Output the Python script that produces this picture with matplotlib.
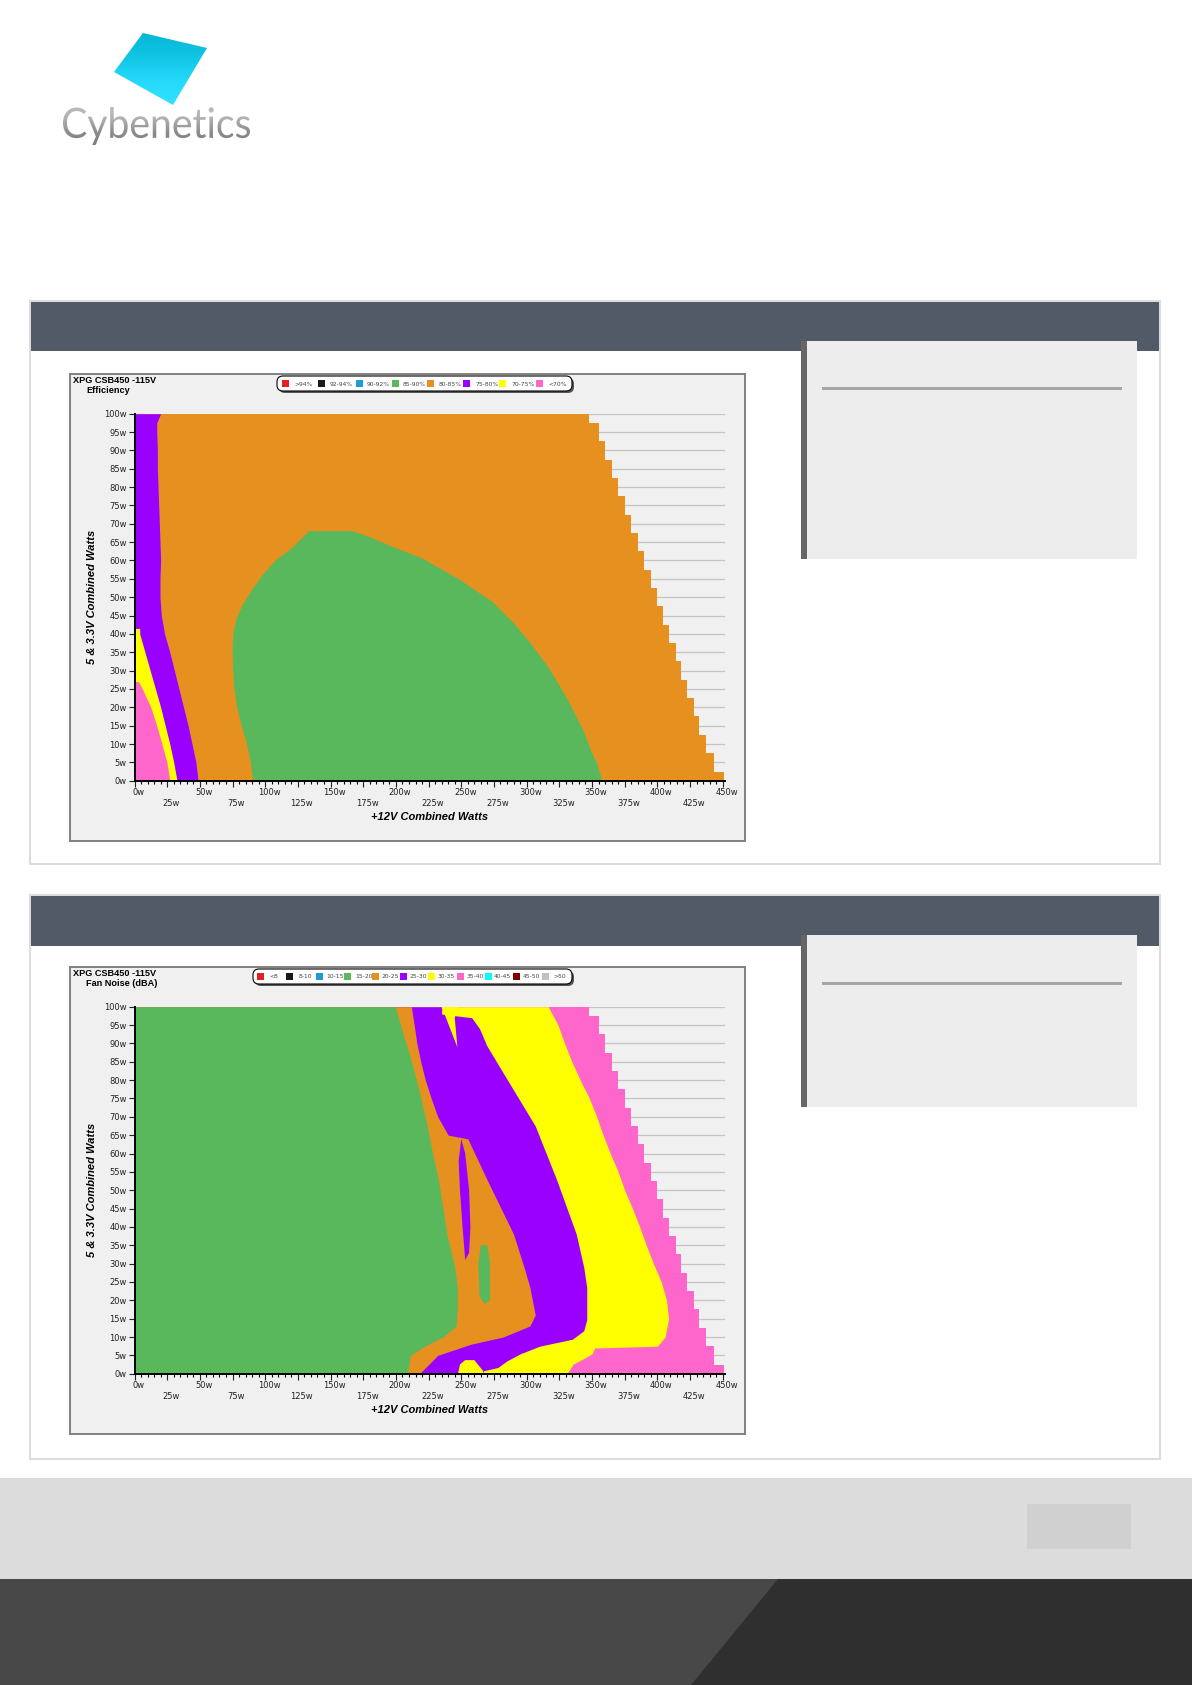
import numpy as np
import matplotlib.pyplot as plt
from matplotlib.patches import Rectangle, Polygon, FancyBboxPatch, PathPatch
from matplotlib.textpath import TextPath
from matplotlib.font_manager import FontProperties
from matplotlib.transforms import Affine2D, ScaledTranslation
from matplotlib.colors import LinearSegmentedColormap

# ---------------- data ----------------
eff_labels = [">94%", "92-94%", "90-92%", "85-90%", "80-85%", "75-80%", "70-75%", "<70%"]
noise_labels = ["<8", "8-10", "10-15", "15-20", "20-25", "25-30", "30-35", "35-40", "40-45", "45-50", ">50"]

RED, BLACK, BLUE, GREEN = "#e3201f", "#1a1a1a", "#1e9ad6", "#59b85c"
ORANGE, PURPLE, YELLOW, PINK = "#e69020", "#9900ff", "#ffff00", "#ff66cc"
eff_colors = [RED, BLACK, BLUE, GREEN, ORANGE, PURPLE, YELLOW, PINK]
noise_colors = [RED, BLACK, BLUE, GREEN, ORANGE, PURPLE, YELLOW, PINK, "#00ffff", "#800000", "#c0c0c0"]

# max +12V load for every 5w row of the 5V & 3.3V rails
row_y = [0, 5, 10, 15, 20, 25, 30, 35, 40, 45, 50, 55, 60, 65, 70, 75, 80, 85, 90, 95, 100]
max_12v = [451, 443, 437, 432, 428, 423, 418, 414, 409, 404, 400, 395, 390, 385, 380, 375,
           370, 365, 360, 355, 348]

# efficiency map, band edges (watts on +12V) per 5V&3.3V load
eff_purple_y = [0, 5, 10, 15, 20, 25, 30, 35, 40, 45, 50, 55, 60, 65, 70, 75, 80, 85, 90, 95, 97.5, 100]
eff_purple_x = [48.6, 47, 44, 41, 37.5, 34, 30.5, 27, 23, 20.5, 19.5, 19.5, 20, 19.5, 19, 18.5,
                18, 17.5, 17.5, 17, 17, 20]
eff_yellow_y = [0, 5, 10, 15, 20, 25, 30, 35, 40, 41.5]
eff_yellow_x = [32.5, 30, 27, 23.5, 20, 16, 12, 8, 4, 4]
eff_pink_y = [0, 5, 10, 15, 20, 25, 27]
eff_pink_x = [27, 24.8, 21, 17, 12.5, 6, 3]
eff_green_x = [90.7, 89, 86, 82, 78.5, 76.5, 75.5, 75, 75.5, 78, 83, 90, 98, 108, 121, 133.5,
               166.5, 179, 199, 220, 249, 273.6, 290, 304, 316.5, 331, 343.7, 350, 353.6, 358]
eff_green_y = [0, 5, 10, 15, 20, 25, 30, 35, 40, 44, 48, 52, 56, 60, 63.5, 68, 68, 66.5, 63.5,
               60.6, 54.7, 48.8, 43, 37, 31, 22.4, 13.5, 7.6, 5, 0]

# fan noise map
noise_yellow_y = [0, 2.6, 4, 5.4, 7, 7.5, 10, 15, 20, 25, 30, 35, 40, 45, 50, 55, 60, 65, 70,
                  75, 80, 85, 90, 95, 100]
noise_yellow_x = [331, 335.5, 343, 350, 352, 400, 406, 408.6, 407, 403, 397, 391.5, 386.5, 381,
                  375, 370, 364, 358.5, 353.6, 348, 341, 334.6, 329, 324, 316.5]
noise_purple_y = [0, 0.8, 1.7, 3.5, 5.4, 7.5, 9.4, 11.7, 14.7, 23.5, 29, 38, 52.8, 67.5, 82,
                  89.4, 94, 97, 98, 100]
noise_purple_x = [266, 267, 278, 285, 295, 310, 335, 343.7, 346, 346, 343.7, 338, 323, 306.6,
                  282, 269.5, 264, 258, 235, 235]
noise_orange_y = [0, 5, 8, 10, 13, 16, 23.5, 29, 38, 53, 64, 65, 70, 75, 80, 85, 90, 95, 100]
noise_orange_x = [218, 232, 257, 282, 302.5, 306.6, 302.5, 298, 290, 269.5, 255, 240, 232, 227,
                  222.5, 219, 216, 214, 211.8]
noise_green_y = [0, 5, 7.5, 10, 13, 18, 23.5, 29, 38, 45, 53, 60, 67.5, 76, 85, 92, 100]
noise_green_x = [209, 211, 222, 236, 246, 247, 247, 245, 239, 236, 232.5, 228, 224, 218.5, 212,
                 206, 199.5]
tongue_x = [250, 253, 256, 257, 256, 253, 251, 249, 248]
tongue_y = [64, 60, 50, 40, 33, 31, 40, 50, 58]
island_x = [265, 270, 272, 272, 268, 264, 263]
island_y = [35, 35, 30, 20, 19, 21, 30]
notch_x = [235, 248, 245, 247]
notch_y = [100, 100, 97, 89]
bump_x = [247.5, 249, 253, 260, 266.6, 266.6]
bump_y = [0, 2.5, 3.7, 3.7, 0.8, 0]

# ---------------- page ----------------
W, H = 1192, 1685
fig = plt.figure(figsize=(W / 100, H / 100), dpi=100)
page = fig.add_axes([0, 0, 1, 1])
page.axis('off')


def box(x0, y0, x1, y1, **kw):
    kw.setdefault('lw', 0)
    page.add_patch(Rectangle((x0, y0), x1 - x0, y1 - y0, **kw))


# logo
diamond = Polygon([(143, 33), (207, 48), (173, 105), (114, 72)], closed=True, fc='none', lw=0)
page.add_patch(diamond)
cyan = LinearSegmentedColormap.from_list('c', ['#05b7d6', '#10c6e4', '#26d9fb', '#30e2ff'])
im = page.imshow(np.linspace(0, 1, 100)[:, None], cmap=cyan, extent=(114, 207, 105, 33),
                 aspect='auto', origin='upper')
im.set_clip_path(diamond)
tp = TextPath((0, 0), "Cybenetics", size=40, prop=FontProperties(family='Lato'))
bb = tp.get_extents()
tr = Affine2D().translate(-bb.x0, -bb.y0).scale(187 / bb.width, -38 / bb.height).translate(63, 145)
logo_text = PathPatch(tr.transform_path(tp), fc='none', lw=0)
page.add_patch(logo_text)
grey = LinearSegmentedColormap.from_list('g', ['#bdbdbd', '#b0b0b0', '#8c8c8c', '#7c7c7c'])
im2 = page.imshow(np.linspace(0, 1, 100)[:, None], cmap=grey, extent=(60, 255, 146, 105),
                  aspect='auto', origin='upper')
im2.set_clip_path(logo_text)

# panels
panels = [(301, 864, 351, 341, 559, 389), (895, 1459, 946, 935, 1107, 984)]
for top, bot, head, s0, s1, ly in panels:
    box(30, top, 1160, bot, fc='white', ec='#dcdcdc', lw=1.5)
    box(31, top + 1, 1159, head, fc='#535a67')
    box(801, s0, 1137, s1, fc='#ededed')
    box(801, s0, 807, s1, fc='#666666')
    box(822, ly - 1.5, 1122, ly + 1.5, fc='#a6a6a6')

# footer
box(0, 1478, W, 1579, fc='#dcdcdc')
box(1027, 1504, 1131, 1549, fc='#d0d0d0')
box(0, 1579, W, H, fc='#484848')
page.add_patch(Polygon([(778, 1579), (W, 1579), (W, H), (691, H)], closed=True, fc='#2f2f2f', lw=0))

page.set_xlim(0, W)
page.set_ylim(H, 0)


def chart(top, subtitle, labels, colors, leg_x0, sq_x, tx_x):
    box(70, top, 745, top + 467, fc='#f0f0f0', ec='#777777', lw=1.3)
    page.text(73, top + 2, "XPG CSB450 -115V", fontsize=6.6, weight='bold',
              family='Liberation Sans', va='top')
    page.text(86.5, top + 12, subtitle, fontsize=6.6, weight='bold',
              family='Liberation Sans', va='top')
    # legend
    page.add_patch(FancyBboxPatch((leg_x0 + 2, top + 4), 572 - leg_x0, 15,
                                  boxstyle='round,pad=0,rounding_size=6', fc='#555555', lw=0))
    page.add_patch(FancyBboxPatch((leg_x0, top + 2), 572 - leg_x0, 15,
                                  boxstyle='round,pad=0,rounding_size=6', fc='white',
                                  ec='black', lw=0.8))
    for lab, c, sx, tx in zip(labels, colors, sq_x, tx_x):
        box(sx, top + 6.5, sx + 6.5, top + 13, fc=c)
        page.text(tx, top + 10, lab, fontsize=4.3, color='#444444', va='center',
                  family='DejaVu Sans')

    ax = fig.add_axes([134.5 / W, 1 - (top + 406.7) / H, 590 / W, 367 / H])
    ax.set_facecolor('#f0f0f0')
    ax.set_xlim(0, 451.4)
    ax.set_ylim(0, 100)
    for s in ['top', 'right']:
        ax.spines[s].set_visible(False)
    for s in ['left', 'bottom']:
        ax.spines[s].set_linewidth(1.4)
    ax.set_yticks(row_y)
    ax.set_yticklabels([f"{v}w" for v in row_y])
    xt = list(range(0, 451, 25))
    ax.set_xticks(xt)
    ax.set_xticklabels([f"{v}w" if v % 50 == 0 else f"\n{v}w" for v in xt], linespacing=1.25)
    ax.set_xticks(range(0, 451, 5), minor=True)
    ax.tick_params(labelsize=6, length=4, width=0.8, pad=1.5, colors='#222222')
    ax.tick_params(axis='x', which='minor', length=2.5, width=0.8)
    for lab in ax.get_xticklabels():
        lab.set_transform(lab.get_transform() + ScaledTranslation(4 / 100, 0, fig.dpi_scale_trans))
    ax.yaxis.grid(True, color='#c4c4c4', lw=0.9)
    ax.set_axisbelow(True)
    ax.set_xlabel("+12V Combined Watts", fontsize=8, weight='bold', style='italic',
                  family='Liberation Sans', labelpad=3)
    ax.set_ylabel("5 & 3.3V Combined Watts", fontsize=8, weight='bold', style='italic',
                  family='Liberation Sans', labelpad=5)
    return ax


# efficiency chart
ax1 = chart(374, "Efficiency", eff_labels, eff_colors, 277,
            [282, 318, 356, 392, 427, 463, 499, 536],
            [294, 330, 367, 403, 439, 476, 512, 548])
ax1.fill_betweenx(row_y, 0, max_12v, step='mid', color=ORANGE, lw=0)
ax1.fill_betweenx(eff_purple_y, 0, eff_purple_x, color=PURPLE, lw=0)
ax1.fill_betweenx(eff_yellow_y, 0, eff_yellow_x, color=YELLOW, lw=0)
ax1.fill_betweenx(eff_pink_y, 0, eff_pink_x, color=PINK, lw=0)
ax1.fill(eff_green_x, eff_green_y, color=GREEN, lw=0)

# fan noise chart
ax2 = chart(967, "Fan Noise (dBA)", noise_labels, noise_colors, 253,
            [257, 286, 316, 344, 372, 400, 428, 457, 485, 513, 542],
            [269, 299, 326, 355, 382, 409, 438, 467, 494, 523, 553])
ax2.fill_betweenx(row_y, 0, max_12v, step='mid', color=PINK, lw=0)
ax2.fill_betweenx(noise_yellow_y, 0, noise_yellow_x, color=YELLOW, lw=0)
ax2.fill_betweenx(noise_purple_y, 0, noise_purple_x, color=PURPLE, lw=0)
ax2.fill_betweenx(noise_orange_y, 0, noise_orange_x, color=ORANGE, lw=0)
ax2.fill_betweenx(noise_green_y, 0, noise_green_x, color=GREEN, lw=0)
ax2.fill(tongue_x, tongue_y, color=PURPLE, lw=0)
ax2.fill(island_x, island_y, color=GREEN, lw=0)
ax2.fill(notch_x, notch_y, color=YELLOW, lw=0)
ax2.fill(bump_x, bump_y, color=YELLOW, lw=0)

fig.savefig("out.png", dpi=100)
